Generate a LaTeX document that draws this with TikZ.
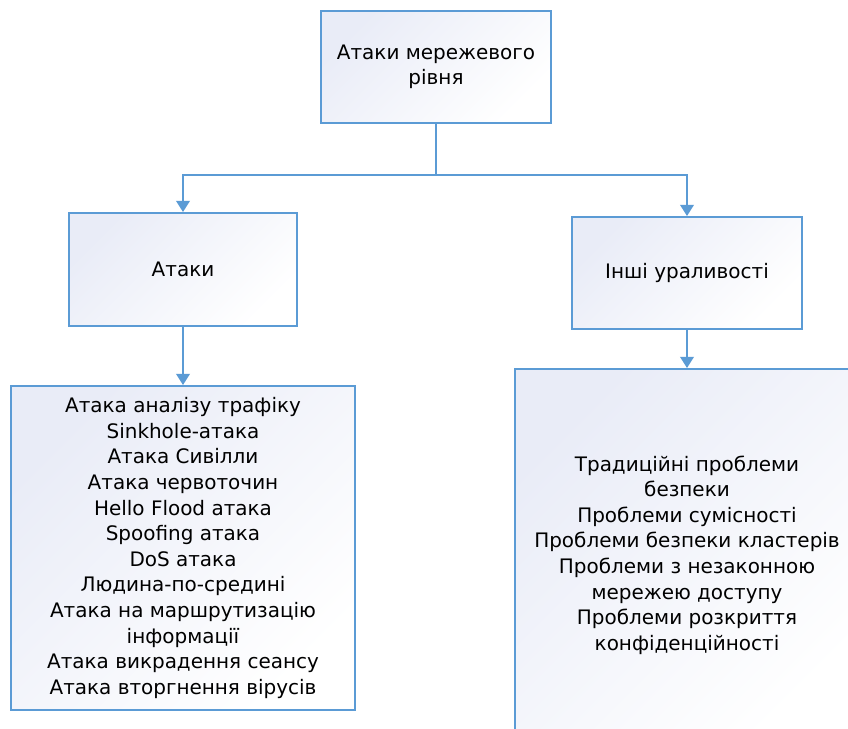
\documentclass[tikz,border=0pt]{standalone}
\usepackage{fontspec}
\setmainfont{DejaVu Sans}
\usepackage{xcolor}
\usetikzlibrary{arrows.meta,positioning}

\definecolor{lineblue}{HTML}{5B9BD5}
\definecolor{boxfill}{HTML}{E9ECF7}

\begin{document}
\begin{tikzpicture}[
    box/.style={rectangle, draw=lineblue, line width=1.4pt,
                top color=boxfill, bottom color=white, shading angle=45,
                font=\fontsize{14.2}{18.2}\selectfont, align=center,
                inner sep=0pt},
    arrow/.style={-{Triangle[length=2.8mm, width=3.4mm]}, line width=1.4pt, lineblue}
]
    \useasboundingbox (0,0) rectangle (21.2,18.2);
    \clip (0,0) rectangle (21.2,18.2);
    \fill[white] (0,0) rectangle (21.2,18.2);

    \node[box, minimum width=5.75cm, minimum height=2.8cm]  (root)   at (10.9, 16.525) {Атаки мережевого\\рівня};
    \node[box, minimum width=5.7cm,  minimum height=2.825cm] (attacks) at (4.575, 11.4625) {Атаки};
    \node[box, minimum width=5.75cm, minimum height=2.8cm]  (other)  at (17.175, 11.375) {Інші ураливості};
    \node[box, minimum width=8.6cm,  minimum height=8.1cm]  (alist)  at (4.575, 4.5)
        {Атака аналізу трафіку\\Sinkhole-атака\\Атака Сивілли\\Атака червоточин\\Hello Flood атака\\Spoofing атака\\DoS атака\\Людина-по-средині\\Атака на маршрутизацію\\інформації\\Атака викрадення сеансу\\Атака вторгнення вірусів};
    \node[box, minimum width=8.6cm,  minimum height=9.3cm]  (olist)  at (17.175, 4.325)
        {Традиційні проблеми\\безпеки\\Проблеми сумісності\\Проблеми безпеки кластерів\\Проблеми з незаконною\\мережею доступу\\Проблеми розкриття\\конфіденційності};

    % Split from the root
    \coordinate (split) at (10.9, 13.825);
    \draw[lineblue, line width=1.4pt] (root.south) -- (split);
    \draw[arrow] (split) -| (attacks.north);
    \draw[arrow] (split) -| (other.north);

    \draw[arrow] (attacks) -- (alist);
    \draw[arrow] (other)   -- (olist);
\end{tikzpicture}
\end{document}
